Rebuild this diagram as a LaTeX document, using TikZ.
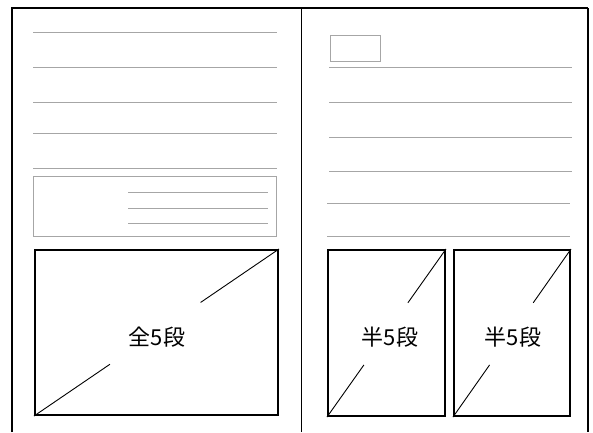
\documentclass[tikz,border=0pt]{standalone}
\usepackage{fontspec}
\newfontfamily\cjk{Noto Sans CJK JP}
\usetikzlibrary{calc}
\begin{document}
\begin{tikzpicture}[x=1pt,y=-1pt,
  rule/.style={draw=black!35,line width=1pt},
  graybox/.style={draw=black!35,line width=1pt,rectangle,inner sep=0pt,anchor=north west},
  adbox/.style={draw=black,line width=2pt,rectangle,inner sep=0pt,anchor=north west},
  diag/.style={draw=black,line width=0.9pt},
  lbl/.style={font=\cjk\fontsize{22}{22}\selectfont,inner sep=0pt}]
\useasboundingbox (0,0) rectangle (593,432);
\fill[white] (0,0) rectangle (593,432);
% page frame
\coordinate (fl) at (12,432);
\coordinate (ftl) at (12,8);
\coordinate (ftr) at (588,8);
\coordinate (fr) at (588,432);
\draw[line width=2pt] (fl) -- (ftl) -- (ftr);
\draw[line width=1.3pt] (ftr) -- (fr);
\coordinate (mt) at (301,8);
\coordinate (mb) at (301,432);
\draw[line width=1pt] (mt) -- (mb);
% left page rules
\foreach \y in {32,67,102,133,168} {
  \draw[rule] (33,\y) -- (277,\y);
}
\node[graybox,minimum width=243pt,minimum height=60pt] (lb) at (33,176) {};
\foreach \y in {192,208,223} {
  \draw[rule] (128,\y) -- (268,\y);
}
% right page
\node[graybox,minimum width=50pt,minimum height=26pt] (sb) at (330,35) {};
\foreach \y in {67,102,137,171} {
  \draw[rule] (329,\y) -- (572,\y);
}
\foreach \y in {203,236} {
  \draw[rule] (327,\y) -- (570,\y);
}
% ad boxes
\node[adbox,minimum width=243pt,minimum height=165pt] (A) at (34,249) {};
\node[adbox,minimum width=117pt,minimum height=166pt] (B) at (327,249) {};
\node[adbox,minimum width=116pt,minimum height=166pt] (C) at (453,249) {};
\foreach \n in {A,B,C} {
  \draw[diag] (\n.south west) -- ($(\n.south west)!0.31!(\n.north east)$);
  \draw[diag] ($(\n.south west)!0.68!(\n.north east)$) -- (\n.north east);
}
\node[lbl] (tA) at (157,337) {全5段};
\node[lbl] (tB) at (390,337) {半5段};
\node[lbl] (tC) at (513,337) {半5段};
\end{tikzpicture}
\end{document}
